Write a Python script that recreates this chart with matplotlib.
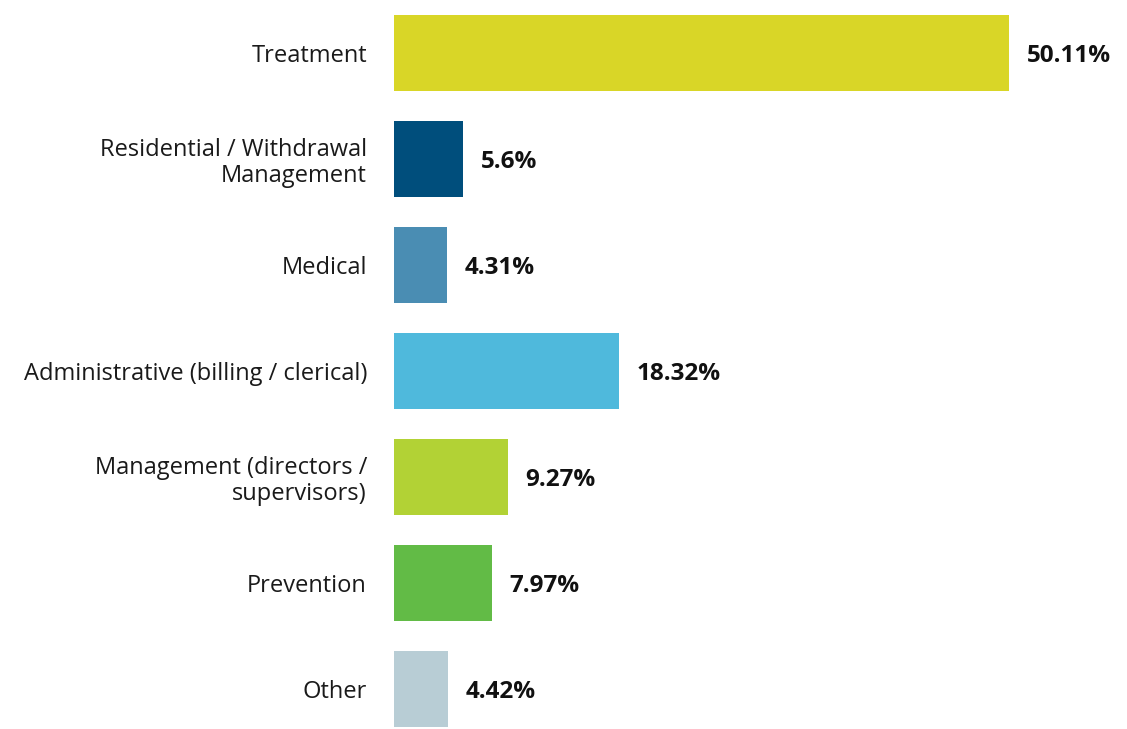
import matplotlib.pyplot as plt

# data
categories = ['Treatment', 'Residential / Withdrawal\nManagement', 'Medical',
              'Administrative (billing / clerical)', 'Management (directors /\nsupervisors)',
              'Prevention', 'Other']
values = [50.11, 5.6, 4.31, 18.32, 9.27, 7.97, 4.42]
labels = ['50.11%', '5.6%', '4.31%', '18.32%', '9.27%', '7.97%', '4.42%']
colors = ['#D9D627', '#004E7C', '#4A8DB3', '#4FB9DC', '#B2D235', '#62BB46', '#B8CDD5']

plt.rcParams['font.family'] = ['Open Sans', 'DejaVu Sans']

fig = plt.figure(figsize=(11.27, 7.29), dpi=100)
ax = fig.add_axes([394 / 1127, 0, 733 / 1127, 1])

ypos = list(range(len(categories)))
ax.barh(ypos, values, height=0.71, color=colors)

for y, v, lab in zip(ypos, values, labels):
    ax.text(v + 1.45, y, lab, va='center_baseline', ha='left', fontsize=17.5,
            fontweight='bold', color='#111111')

ax.set_yticks(ypos)
ax.set_yticklabels(categories, fontsize=17, color='#1a1a1a', linespacing=1.1)
ax.tick_params(axis='y', length=0, pad=19.5)
ax.set_xticks([])
ax.set_xlim(0, 733 / 12.273)
ax.set_ylim((729 - 53) / 106, -0.5)
for s in ax.spines.values():
    s.set_visible(False)

fig.savefig('out.png', dpi=100)
